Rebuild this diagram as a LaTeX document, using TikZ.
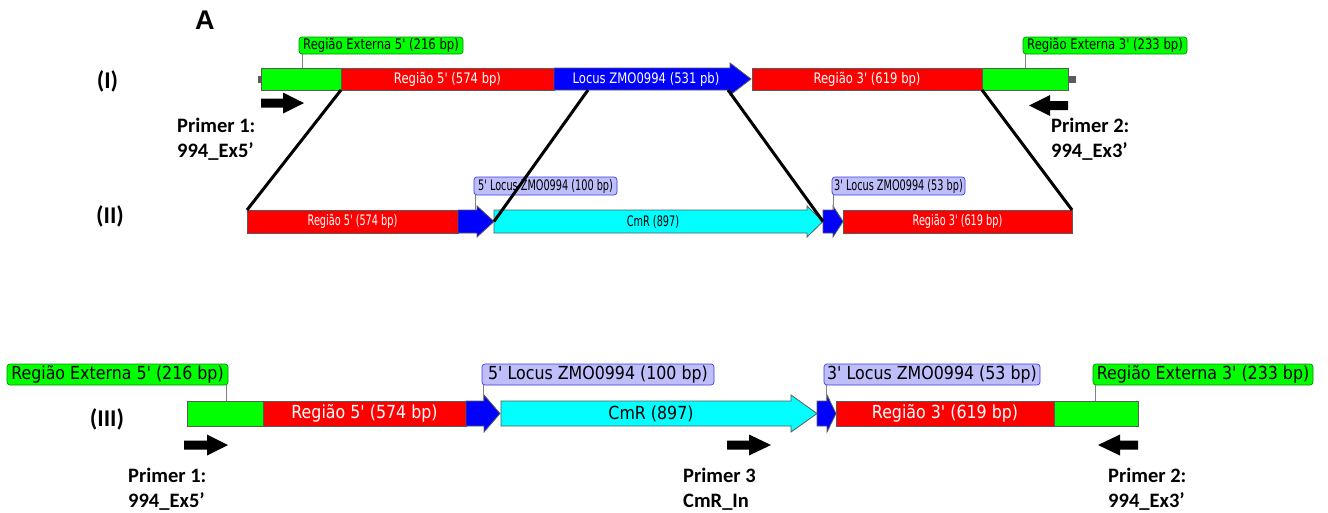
\documentclass[tikz,border=0pt]{standalone}
\usepackage{fontspec}
\newfontfamily\fa[FakeStretch=0.8]{DejaVu Sans}
\newfontfamily\fb[FakeStretch=0.67]{DejaVu Sans}
\newfontfamily\fc[FakeStretch=0.88]{DejaVu Sans}
\newfontfamily\fcal{Carlito}
\newfontfamily\farial{Liberation Sans}
\definecolor{gfill}{RGB}{0,255,0}
\definecolor{rfill}{RGB}{255,0,0}
\definecolor{bfill}{RGB}{0,0,255}
\definecolor{cfill}{RGB}{0,255,255}
\definecolor{lav}{RGB}{190,190,250}
\definecolor{lavline}{RGB}{60,60,230}
\definecolor{gline}{RGB}{0,150,0}
\definecolor{bargray}{RGB}{90,90,90}
\definecolor{leadgray}{RGB}{130,130,130}
\tikzset{
  seg/.style={draw=bargray, line width=0.8pt, inner sep=0pt, outer sep=0pt, anchor=north west},
  segline/.style={draw=bargray, line width=0.8pt},
  rowa/.style={minimum height=22pt, font=\fa\fontsize{14.5}{16}\selectfont},
  rowb/.style={minimum height=23pt, font=\fb\fontsize{14.5}{16}\selectfont},
  rowc/.style={minimum height=25pt, font=\fc\fontsize{18}{20}\selectfont},
  lbl/.style={rounded corners=3pt, inner sep=0pt, outer sep=0pt, anchor=north west, line width=0.7pt, text=black},
  glbl/.style={lbl, fill=gfill, draw=gline},
  blbl/.style={lbl, fill=lav, draw=lavline},
  lead/.style={draw=leadgray, line width=0.6pt},
  diag/.style={draw=black, line width=3pt},
  ptext/.style={font=\fcal\bfseries\fontsize{20.5}{25}\selectfont, anchor=base west, align=left, inner sep=0pt},
  rlabel/.style={font=\fcal\bfseries\fontsize{24}{26}\selectfont, inner sep=0pt},
}
% gene arrow: name, x0, xhead, xtip, ytop, ybot, overhang, fill
\newcommand\garrow[8]{%
  \draw[segline, fill=#8] (#2,#5) -- (#3,#5) -- (#3,#5-#7) -- (#4,{(#5+#6)/2}) -- (#3,#6+#7) -- (#3,#6) -- (#2,#6) -- cycle;
  \coordinate (#1-w) at (#2,{(#5+#6)/2});
  \coordinate (#1-tip) at (#4,{(#5+#6)/2});
}
% primer arrow: xshaft, xhead, xtip, ycenter
\newcommand\parrow[4]{%
  \fill[black] (#1,#4-4.5) -- (#2,#4-4.5) -- (#2,#4-10.5) -- (#3,#4) -- (#2,#4+10.5) -- (#2,#4+4.5) -- (#1,#4+4.5) -- cycle;
}
\begin{document}
\begin{tikzpicture}[x=1pt,y=-1pt]
\useasboundingbox (0,0) rectangle (1328,512);
\node[font=\farial\bfseries\fontsize{27}{30}\selectfont, anchor=base west, inner sep=0pt] (A) at (195,29) {A};

% ---------------- Row I ----------------
\node[rlabel] (tI) at (107.5,81) {(I)};
\fill[bargray] (258,75.5) rectangle (261,82.5);
\fill[bargray] (1068,75.5) rectangle (1076,82.5);
\node[seg, rowa, fill=gfill, minimum width=80pt] (g1) at (261,68) {};
\node[seg, rowa, fill=rfill, minimum width=213pt, text=white] (r1) at (341,68) {Região 5' (574 bp)};
\garrow{loc}{554}{730}{751}{68}{90}{5}{bfill}
\node[rowa, text=white, inner sep=0pt] (loct) at (646,79) {Locus ZMO0994 (531 pb)};
\coordinate (l5) at (588,90);
\coordinate (l3) at (728,90);
\node[seg, rowa, fill=rfill, minimum width=230pt, text=white] (r3) at (752,68) {Região 3' (619 bp)};
\node[seg, rowa, fill=gfill, minimum width=86pt] (g3) at (982,68) {};
\node[glbl, minimum width=164pt, minimum height=17pt, font=\fa\fontsize{14.5}{16}\selectfont] (la1) at (299,37) {Região Externa 5' (216 bp)};
\node[glbl, minimum width=164pt, minimum height=17pt, font=\fa\fontsize{14.5}{16}\selectfont] (la2) at (1023,37) {Região Externa 3' (233 bp)};
\draw[lead] ([xshift=3pt]la1.south west) -- ([xshift=3pt]la1.south west |- g1.north);
\draw[lead] ([xshift=2pt]la2.south west) -- ([xshift=2pt]la2.south west |- g3.north);
\parrow{261}{283}{304}{103}
\parrow{1068}{1050}{1029}{105.5}
\node[ptext] (p1a) at (177,157) {Primer 1:\\994\_Ex5’};
\node[ptext] (p2a) at (1051,157) {Primer 2:\\994\_Ex3’};

% ---------------- Row II ----------------
\node[rlabel] (tII) at (110,216) {(II)};
\node[seg, rowb, fill=rfill, minimum width=211pt, text=white] (r2) at (247,210) {Região 5' (574 bp)};
\garrow{b5}{458}{477}{494}{210}{233}{4}{bfill}
\garrow{cm}{494}{807}{823}{210}{233}{4}{cfill}
\node[rowb, inner sep=0pt] (cmt) at (653,221.5) {CmR (897)};
\garrow{b3}{823}{833}{843}{210}{233}{4}{bfill}
\node[seg, rowb, fill=rfill, minimum width=229pt, text=white] (r4) at (843,210) {Região 3' (619 bp)};
\node[blbl, minimum width=143pt, minimum height=18pt, font=\fb\fontsize{14.5}{16}\selectfont] (lb1) at (474,177) {5' Locus ZMO0994 (100 bp)};
\node[blbl, minimum width=133pt, minimum height=18pt, font=\fb\fontsize{14.5}{16}\selectfont] (lb2) at (832,177) {3' Locus ZMO0994 (53 bp)};
\draw[lead] ([xshift=1pt]lb1.south west) -- ([xshift=1pt]lb1.south west |- r2.north);
\draw[lead] ([xshift=1pt]lb2.south west) -- ([xshift=1pt]lb2.south west |- r2.north);

% diagonals
\draw[diag] (g1.south east) -- (r2.north west);
\draw[diag] (l5) -- (cm-w);
\draw[diag] (l3) -- (b3-w);
\draw[diag] (r3.south east) -- (r4.north east);

% ---------------- Row III ----------------
\node[rlabel] (tIII) at (107,419) {(III)};
\node[seg, rowc, fill=gfill, minimum width=76pt] (g5) at (187,401) {};
\node[seg, rowc, fill=rfill, minimum width=203pt, text=white] (r5) at (263,401) {Região 5' (574 bp)};
\garrow{c5}{466}{484}{500}{401}{426}{6}{bfill}
\garrow{cm2}{501}{791}{817}{401}{426}{6}{cfill}
\node[rowc, inner sep=0pt] (cmt2) at (651,413.5) {CmR (897)};
\garrow{c3}{817}{827}{836}{401}{426}{6}{bfill}
\node[seg, rowc, fill=rfill, minimum width=218pt, text=white] (r6) at (836,401) {Região 3' (619 bp)};
\node[seg, rowc, fill=gfill, minimum width=84pt] (g6) at (1054,401) {};
\node[glbl, minimum width=221pt, minimum height=21pt, font=\fc\fontsize{18}{20}\selectfont] (lc1) at (7,364) {Região Externa 5' (216 bp)};
\node[blbl, minimum width=232pt, minimum height=21pt, font=\fc\fontsize{18}{20}\selectfont] (lc2) at (482,364) {5' Locus ZMO0994 (100 bp)};
\node[blbl, minimum width=216pt, minimum height=21pt, font=\fc\fontsize{18}{20}\selectfont] (lc3) at (824,364) {3' Locus ZMO0994 (53 bp)};
\node[glbl, minimum width=220pt, minimum height=21pt, font=\fc\fontsize{18}{20}\selectfont] (lc4) at (1093,364) {Região Externa 3' (233 bp)};
\draw[lead] ([xshift=-2pt]lc1.south east) -- ([xshift=-2pt]lc1.south east |- g5.north);
\draw[lead] ([xshift=1pt]lc2.south west) -- ([xshift=1pt]lc2.south west |- g5.north);
\draw[lead] ([xshift=2pt]lc3.south west) -- ([xshift=2pt]lc3.south west |- g5.north);
\draw[lead] ([xshift=2pt]lc4.south west) -- ([xshift=2pt]lc4.south west |- g5.north);
\parrow{184}{207}{228}{445}
\parrow{727}{749}{771}{445}
\parrow{1138}{1120}{1098}{445}
\node[ptext] (p1c) at (128,507) {Primer 1:\\994\_Ex5’};
\node[ptext] (p3c) at (683,507) {Primer 3\\CmR\_In};
\node[ptext] (p2c) at (1108,507) {Primer 2:\\994\_Ex3’};
\end{tikzpicture}
\end{document}
